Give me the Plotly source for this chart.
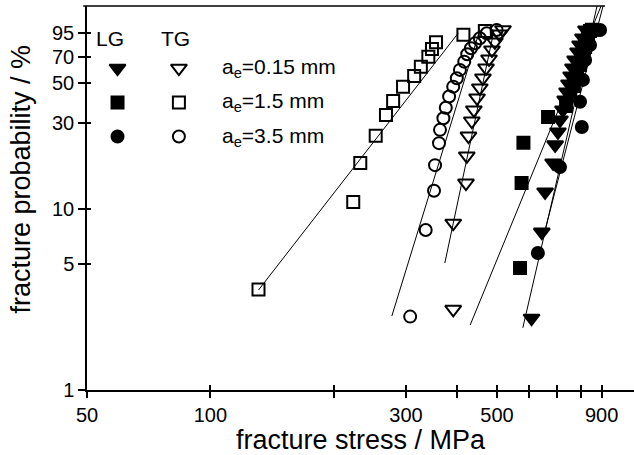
import math
import plotly.graph_objects as go

# Fracture stress (MPa) and cumulative fracture probability (%)
# TG = transgranular, LG = longitudinal grain orientation; a_e = effective flaw size

tg_015_stress = [391, 391, 420, 422, 426, 434, 439, 447, 454, 462, 470, 478, 486, 494, 506, 517]
tg_015_prob = [2.8, 8.4, 14.0, 19.8, 25.5, 30.9, 35.6, 41.5, 47.1, 53.5, 60.8, 68.2, 76.5, 84.7, 93.8, 99.0]

tg_15_stress = [131, 223, 232, 253, 268, 279, 295, 314, 326, 340, 347, 355, 414, 467]
tg_15_prob = [3.6, 11.0, 18.1, 25.6, 33.4, 39.9, 47.9, 54.9, 61.8, 70.2, 77.5, 84.4, 92.7, 97.5]

tg_35_stress = [307, 335, 351, 353, 361, 363, 370, 375, 382, 391, 399, 406, 416, 423, 432, 442, 454, 472, 499]
tg_35_prob = [2.55, 7.7, 12.7, 17.6, 23.3, 27.6, 32.0, 36.6, 42.2, 47.9, 53.3, 59.3, 65.9, 72.4, 78.2, 83.3, 88.8, 94.7, 98.7]

lg_015_stress = [607, 643, 655, 685, 693, 704, 712, 724, 733, 741, 749, 758, 766, 775, 788, 797, 810, 824]
lg_015_prob = [2.5, 7.5, 12.5, 18.1, 22.8, 26.9, 31.3, 35.6, 40.4, 44.8, 49.6, 54.9, 60.8, 67.3, 74.6, 81.5, 89.2, 98.7]

lg_15_stress = [569, 574, 580, 666, 737, 753, 770, 784, 797, 810, 820, 833, 843, 852]
lg_15_prob = [4.74, 14.0, 23.4, 32.5, 37.4, 43.1, 48.3, 55.6, 63.2, 71.8, 79.5, 89.2, 97.5, 99.0]

lg_35_stress = [629, 712, 805, 797, 810, 820, 843, 892]
lg_35_prob = [5.74, 17.2, 28.6, 39.5, 52.2, 67.3, 81.5, 98.7]

# Weibull fit lines (end points: stress in MPa, probability in %)
fit_tg_015 = ([373, 492], [5.05, 98.7])
fit_tg_15 = ([131, 402], [3.58, 94.7])
fit_tg_35 = ([277, 454], [2.57, 98.7])
fit_lg_015 = ([578, 877], [2.21, 134])
fit_lg_15 = ([430, 897], [2.29, 134])
fit_lg_35 = ([655, 907], [7.69, 134])

x_tickvals = [50, 100, 200, 300, 400, 500, 600, 700, 800, 900]
x_ticktext = ["50", "100", "", "300", "", "500", "", "", "", "900"]
y_tickvals = [1, 5, 10, 30, 50, 70, 95]
y_ticktext = ["1", "5", "10", "30", "50", "70", "95"]

legend_rows = ["a<sub>e</sub>=0.15 mm", "a<sub>e</sub>=1.5 mm", "a<sub>e</sub>=3.5 mm"]

FONT = "Liberation Sans, Arial, sans-serif"
X_RANGE = [math.log10(50), math.log10(50) + 1.3341]
Y_RANGE = [0, 2.127]

fig = go.Figure()

for xs, ys in [fit_tg_015, fit_tg_15, fit_tg_35, fit_lg_015, fit_lg_15, fit_lg_35]:
    fig.add_trace(go.Scatter(x=xs, y=ys, mode="lines",
                             line=dict(color="black", width=1), hoverinfo="skip"))

series = [
    (tg_015_stress, tg_015_prob, "triangle-down-open"),
    (tg_15_stress, tg_15_prob, "square-open"),
    (tg_35_stress, tg_35_prob, "circle-open"),
    (lg_015_stress, lg_015_prob, "triangle-down"),
    (lg_15_stress, lg_15_prob, "square"),
    (lg_35_stress, lg_35_prob, "circle"),
]
for xs, ys, sym in series:
    size = 14 if "triangle" in sym else 12
    fig.add_trace(go.Scatter(x=xs, y=ys, mode="markers", cliponaxis=False,
                             marker=dict(symbol=sym, size=size, color="black",
                                         line=dict(color="black", width=2))))

# Legend keys on a hidden unit axis laid over the plot area
key_x = [0.0558, 0.168]
key_y = [0.838, 0.749, 0.66]
key_syms = [("triangle-down", "triangle-down-open"), ("square", "square-open"), ("circle", "circle-open")]
for row, (filled, hollow) in enumerate(key_syms):
    for col, sym in enumerate((filled, hollow)):
        size = 14 if "triangle" in sym else 12
        fig.add_trace(go.Scatter(x=[key_x[col]], y=[key_y[row]], xaxis="x3", yaxis="y3",
                                 mode="markers", cliponaxis=False,
                                 marker=dict(symbol=sym, size=size, color="black",
                                             line=dict(color="black", width=2))))

annotations = [
    dict(text="LG", x=0.042, y=0.916, xref="paper", yref="paper", showarrow=False,
         xanchor="center", yanchor="middle", font=dict(size=21, family=FONT, color="black")),
    dict(text="TG", x=0.161, y=0.916, xref="paper", yref="paper", showarrow=False,
         xanchor="center", yanchor="middle", font=dict(size=21, family=FONT, color="black")),
    dict(text="fracture probability / %", x=-0.121, y=0.55, xref="paper", yref="paper",
         xanchor="center", yanchor="middle",
         textangle=-90, showarrow=False, font=dict(size=27, family=FONT, color="black")),
]
for lbl, yy in zip(legend_rows, key_y):
    annotations.append(dict(text=lbl, x=0.243, y=yy, xref="paper", yref="paper",
                            xanchor="left", yanchor="middle", showarrow=False,
                            font=dict(size=21, family=FONT, color="black")))

axis_common = dict(showgrid=False, zeroline=False, linecolor="black", linewidth=1.5,
                   tickcolor="black", tickwidth=1.5)

fig.update_layout(
    width=634, height=455,
    margin=dict(l=87, r=0, t=6, b=65),
    paper_bgcolor="white", plot_bgcolor="white",
    showlegend=False,
    font=dict(family=FONT, color="black", size=20),
    xaxis=dict(type="log", range=X_RANGE, tickvals=x_tickvals, ticktext=x_ticktext,
               ticks="outside", ticklen=6, showline=True,
               title=dict(text="fracture stress / MPa", font=dict(size=27, family=FONT), standoff=2),
               tickfont=dict(size=20, family=FONT), **axis_common),
    yaxis=dict(type="log", range=Y_RANGE, tickvals=y_tickvals, ticktext=y_ticktext,
               ticks="outside", ticklen=7, showline=True,
               tickfont=dict(size=20, family=FONT), **axis_common),
    xaxis2=dict(type="log", range=X_RANGE, overlaying="x", tickvals=x_tickvals,
                showticklabels=False, ticks="inside", ticklen=5, side="bottom", showline=False,
                **axis_common),
    yaxis2=dict(type="log", range=Y_RANGE, overlaying="y", tickvals=y_tickvals,
                showticklabels=False, ticks="inside", ticklen=4, side="left", showline=False,
                **axis_common),
    xaxis3=dict(range=[0, 1], overlaying="x", visible=False),
    yaxis3=dict(range=[0, 1], overlaying="y", visible=False),
    annotations=annotations,
    shapes=[dict(type="line", xref="paper", yref="paper", x0=-0.007, x1=0.947, y0=1, y1=1,
                 line=dict(color="black", width=1.5))],
)

# invisible point so the overlaid tick axes are drawn
fig.add_trace(go.Scatter(x=[100], y=[10], xaxis="x2", yaxis="y2", mode="markers",
                         marker=dict(opacity=0), hoverinfo="skip"))

fig.write_html("out.html")
